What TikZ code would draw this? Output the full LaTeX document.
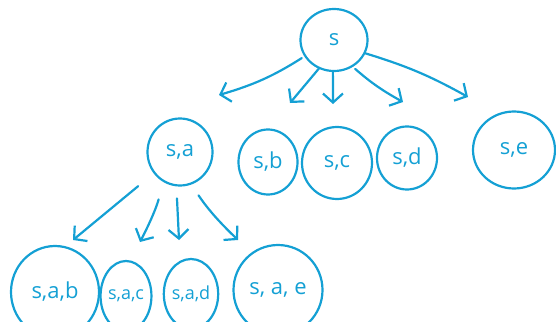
\documentclass[tikz,border=0pt]{standalone}
\usepackage{fontspec}
\setmainfont{Open Sans}
\usetikzlibrary{arrows.meta,shapes.geometric}
\definecolor{ink}{RGB}{20,160,212}
\begin{document}
\begin{tikzpicture}[x=1pt,y=-1pt,
  state/.style={ellipse, draw=ink, line width=2.2pt, inner sep=0pt,
    text=ink, font=\fontsize{22}{22}\selectfont},
  small/.style={font=\fontsize{18}{18}\selectfont},
  edge/.style={draw=ink, line width=2.2pt, line cap=round, line join=round,
    -{Straight Barb[length=9pt,width=20pt,line width=2.2pt]}}]
\useasboundingbox (0,0) rectangle (556,321);
% root
\node[state, minimum width=67pt, minimum height=62pt] (s) at (334,40) {s};
% first level
\node[state, minimum width=65pt, minimum height=67pt] (sa) at (180,152) {s,a};
\node[state, minimum width=59pt, minimum height=65pt] (sb) at (268,162) {s,b};
\node[state, minimum width=70pt, minimum height=72pt] (sc) at (337,163) {s,c};
\node[state, minimum width=60pt, minimum height=63pt] (sd) at (407,158) {s,d};
\node[state, minimum width=82pt, minimum height=77pt] (se) at (514,150) {s,e};
% second level
\node[state, minimum width=88pt, minimum height=92pt] (sab) at (55,292) {s,a,b};
\node[state, small, minimum width=48pt, minimum height=70pt] (sac) at (126,296) {s,a,c};
\node[state, small, minimum width=52pt, minimum height=70pt] (sad) at (191,294) {s,a,d};
\node[state, minimum width=89pt, minimum height=90pt] (sae) at (278,290) {s, a, e};
% arrow ends
\coordinate (e1) at (219,95);
\coordinate (e2) at (290,103);
\coordinate (e3) at (333,104);
\coordinate (e4) at (403,102);
\coordinate (e5) at (468,97);
\coordinate (f1) at (73,240);
\coordinate (f2) at (140,242);
\coordinate (f3) at (179,240);
\coordinate (f4) at (238,240);
% arrows from the root
\draw[edge, shorten <=3pt] (s.209) to[bend left=8] (e1);
\draw[edge] (s.242) -- (e2);
\draw[edge] (s.268) -- (e3);
\draw[edge, shorten <=3pt] (s.305) to[bend right=6] (e4);
\draw[edge] (s.337) to[bend left=6] (e5);
% arrows from s,a
\draw[edge, shorten <=20pt] (sa.219) -- (f1);
\draw[edge, shorten <=18pt] (sa.241) to[bend left=6] (f2);
\draw[edge, shorten <=12pt] (sa.264) -- (f3);
\draw[edge, shorten <=13pt] (sa.289) to[bend right=6] (f4);
\end{tikzpicture}
\end{document}
